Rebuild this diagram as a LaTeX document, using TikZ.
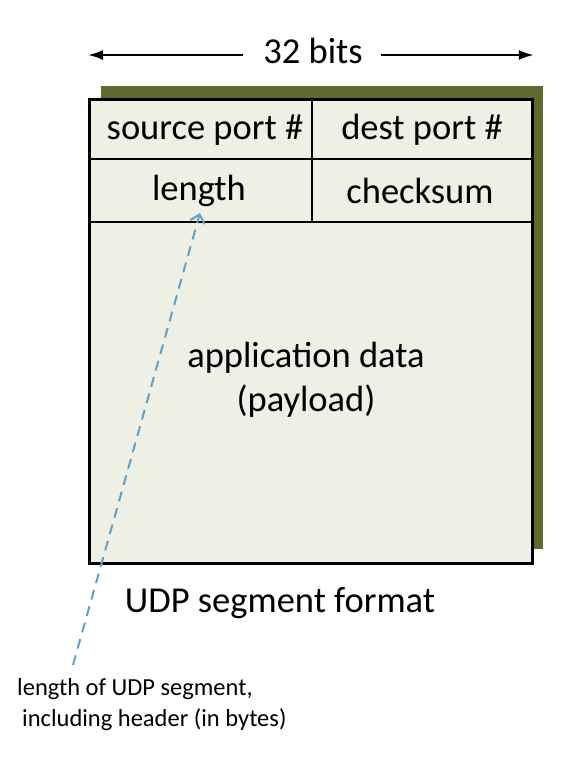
\documentclass[tikz,border=0pt]{standalone}
\usepackage{fontspec}
\setmainfont{Carlito}
\usetikzlibrary{arrows.meta,positioning}
\definecolor{Olive}{HTML}{5C6B2B}
\definecolor{Paper}{HTML}{EEF0E3}
\definecolor{Sky}{HTML}{5BA3CF}

\begin{document}
\begin{tikzpicture}[x=1pt,y=-1pt,
    field/.style={inner sep=0pt,font=\fontsize{36.5}{44}\selectfont},
    note/.style={inner sep=0pt,align=left,font=\fontsize{24.5}{31}\selectfont},
    wide/.style={-{Latex[length=15pt,width=10pt]},line width=2.2pt},
    rule/.style={line width=2.8pt},
    lenarr/.style={-{Straight Barb[length=8pt,width=15pt]},Sky,line width=2pt,
      dash pattern=on 10pt off 7pt}
  ]
    \useasboundingbox (0,0) rectangle (576,760);
    % shadow and segment box
    \fill[Olive] (101,86) rectangle (543,549);
    \node[draw,rule,fill=Paper,inner sep=0pt,anchor=north west,
      minimum width=443pt,minimum height=464pt] (seg) at (88,98) {};
    \draw[rule] (seg.west |- 0,159) -- (seg.east |- 0,159);
    \draw[rule] (seg.west |- 0,222) -- (seg.east |- 0,222);
    \draw[rule] (312,98) -- (312,222);
    % fields
    \node[field] (src) at (205,130) {source port \#};
    \node[field] (dst) at (422,130) {dest port \#};
    \node[field] (len) at (199,191) {length};
    \node[field] (chk) at (420,191) {checksum};
    \node[field,align=center] (data) at (306,380) {application data\\(payload)};
    \node[field] (cap) at (280,603) {UDP segment format};
    % width arrows
    \node[field] (bits) at (313,51) {32 bits};
    \coordinate (bl) at ([xshift=-20pt,yshift=-4pt]bits.west);
    \coordinate (br) at ([xshift=18pt,yshift=-4pt]bits.east);
    \draw[wide] (bl) -- (bl -| seg.west);
    \draw[wide] (br) -- (br -| seg.east);
    % note on length
    \node[note,anchor=north west] (lennote) at (17,678)
      {length of UDP segment,\\\hspace{5pt}including header (in bytes)};
    \coordinate (tip) at (200,213);
    \draw[lenarr] (lennote.north west) ++(56,-13) -- (tip);
\end{tikzpicture}
\end{document}
